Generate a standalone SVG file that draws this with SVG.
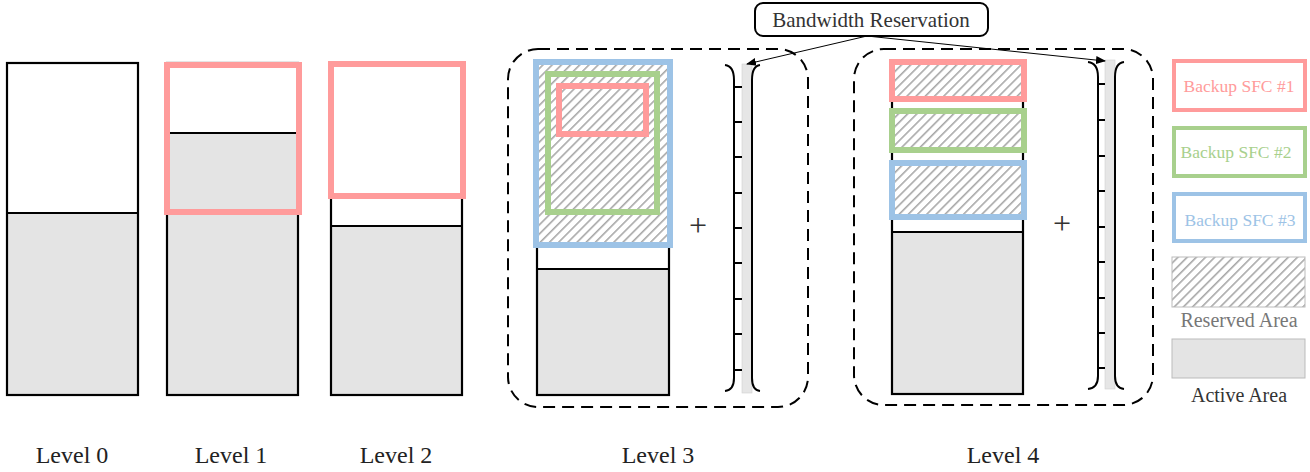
<svg xmlns="http://www.w3.org/2000/svg" width="1310" height="472" viewBox="0 0 1310 472">
<defs>
<pattern id="hatch" width="6.5" height="6.5" patternUnits="userSpaceOnUse" patternTransform="rotate(45)">
<rect width="6.5" height="6.5" fill="#ffffff"/>
<line x1="0" y1="0" x2="0" y2="6.5" stroke="#a8a8a8" stroke-width="3.2"/>
</pattern>
<marker id="arr" markerWidth="10" markerHeight="8" refX="9" refY="4" orient="auto" markerUnits="userSpaceOnUse">
<path d="M0,0 L10,4 L0,8 Z" fill="#000"/>
</marker>
<style>
.col{stroke:#000;stroke-width:2.2;fill:none}
.act{fill:#e4e4e4}
.hat{fill:url(#hatch);stroke:none}
.pink{fill:none;stroke:#ff9b9b;stroke-width:6}
.green{fill:none;stroke:#a8d08d;stroke-width:6}
.blue{fill:none;stroke:#9dc3e6;stroke-width:6}
.dash{fill:none;stroke:#000;stroke-width:2;stroke-dasharray:12 7}
.lbl{font-family:"Liberation Serif","Times New Roman",serif;font-size:24px;fill:#222;text-anchor:middle}
.leg{font-family:"Liberation Serif","Times New Roman",serif;font-size:17.5px;text-anchor:middle}
.bar{fill:#e6e6e6;stroke:#d0d0d0;stroke-width:0.6}
.br{fill:none;stroke:#000;stroke-width:2}
.tick{stroke:#000;stroke-width:2}
.plus{font-family:"Liberation Serif","Times New Roman",serif;font-size:32px;fill:#333;text-anchor:middle}
</style>
</defs>

<g id="level0">
<rect x="7" y="213" width="131" height="182" class="act"/>
<rect x="7" y="63" width="131" height="332" class="col"/>
<line x1="7" y1="213" x2="138" y2="213" class="col"/>
<text x="72" y="463" class="lbl">Level 0</text>
</g>

<g id="level1">
<rect x="167" y="133" width="131" height="262" class="act"/>
<rect x="167" y="63" width="131" height="332" class="col"/>
<line x1="167" y1="133" x2="298" y2="133" class="col"/>
<rect x="167" y="65" width="132" height="147" class="pink"/>
<text x="231" y="463" class="lbl">Level 1</text>
</g>

<g id="level2">
<rect x="331" y="226" width="131" height="169" class="act"/>
<rect x="331" y="63" width="131" height="332" class="col"/>
<line x1="331" y1="226" x2="462" y2="226" class="col"/>
<rect x="331" y="64" width="132" height="132" fill="#fff"/>
<rect x="331" y="64" width="132" height="132" class="pink"/>
<text x="396" y="463" class="lbl">Level 2</text>
</g>

<g id="level3">
<rect x="508" y="49" width="300" height="358" rx="30" class="dash"/>
<rect x="537" y="269" width="132" height="126" class="act"/>
<rect x="537" y="62" width="132" height="333" class="col"/>
<line x1="537" y1="269" x2="669" y2="269" class="col"/>
<rect x="536" y="62" width="134" height="183" class="hat"/>
<rect x="536" y="62" width="134" height="183" class="blue"/>
<rect x="548" y="74" width="109" height="138" class="green"/>
<rect x="559" y="86" width="87" height="48" class="pink"/>
<text x="698" y="236" class="plus">+</text>
<rect x="742" y="64" width="10" height="329" class="bar"/>
<path d="M725,65 Q734,66 734,80 L734,378 Q734,390 725,391" class="br"/>
<path d="M760,65 Q752,66 752,80 L752,378 Q752,390 760,391" class="br"/>
<g class="tick">
<line x1="734" y1="87" x2="742" y2="87"/><line x1="734" y1="122" x2="742" y2="122"/>
<line x1="734" y1="157" x2="742" y2="157"/><line x1="734" y1="193" x2="742" y2="193"/>
<line x1="734" y1="228" x2="742" y2="228"/><line x1="734" y1="263" x2="742" y2="263"/>
<line x1="734" y1="299" x2="742" y2="299"/><line x1="734" y1="334" x2="742" y2="334"/>
<line x1="734" y1="370" x2="742" y2="370"/>
</g>
<text x="658" y="463" class="lbl">Level 3</text>
</g>

<g id="level4">
<rect x="854" y="49" width="299" height="356" rx="30" class="dash"/>
<rect x="892" y="232" width="131" height="162" class="act"/>
<rect x="892" y="62" width="131" height="332" class="col"/>
<line x1="892" y1="232" x2="1023" y2="232" class="col"/>
<rect x="892" y="62" width="132" height="37" class="hat"/>
<rect x="892" y="62" width="132" height="37" class="pink"/>
<rect x="892" y="111" width="132" height="39" class="hat"/>
<rect x="892" y="111" width="132" height="39" class="green"/>
<rect x="892" y="163" width="132" height="54" class="hat"/>
<rect x="892" y="163" width="132" height="54" class="blue"/>
<text x="1062" y="234" class="plus">+</text>
<rect x="1105" y="60" width="10" height="329" class="bar"/>
<path d="M1088,62 Q1098,63 1098,77 L1098,376 Q1098,388 1088,389" class="br"/>
<path d="M1124,62 Q1115,63 1115,77 L1115,376 Q1115,388 1124,389" class="br"/>
<g class="tick">
<line x1="1098" y1="84" x2="1105" y2="84"/><line x1="1098" y1="120" x2="1105" y2="120"/>
<line x1="1098" y1="156" x2="1105" y2="156"/><line x1="1098" y1="191" x2="1105" y2="191"/>
<line x1="1098" y1="227" x2="1105" y2="227"/><line x1="1098" y1="262" x2="1105" y2="262"/>
<line x1="1098" y1="298" x2="1105" y2="298"/><line x1="1098" y1="333" x2="1105" y2="333"/>
<line x1="1098" y1="368" x2="1105" y2="368"/>
</g>
<text x="1003" y="463" class="lbl">Level 4</text>
</g>

<g id="bandwidth">
<rect x="755" y="3" width="233" height="33" rx="8" fill="#fff" stroke="#000" stroke-width="2"/>
<text x="871" y="27" class="lbl" style="font-size:21px;fill:#333">Bandwidth Reservation</text>
</g>

<g id="connectors" stroke="#000" stroke-width="1" fill="none">
<line x1="867" y1="36" x2="747" y2="64" marker-end="url(#arr)"/>
<line x1="867" y1="36" x2="1105" y2="61" marker-end="url(#arr)"/>
</g>

<g id="legend">
<rect x="1174" y="61" width="131" height="49" fill="#fff" stroke="#ff9b9b" stroke-width="4"/>
<text x="1239" y="92" class="leg" fill="#ff9b9b">Backup SFC #1</text>
<rect x="1174" y="128" width="131" height="48" fill="#fff" stroke="#a8d08d" stroke-width="4"/>
<text x="1236" y="158" class="leg" fill="#a8d08d">Backup SFC #2</text>
<rect x="1174" y="194" width="131" height="47" fill="#fff" stroke="#9dc3e6" stroke-width="4"/>
<text x="1240" y="226" class="leg" fill="#9dc3e6">Backup SFC #3</text>
<rect x="1172" y="257" width="133" height="50" fill="url(#hatch)" stroke="#bbb" stroke-width="1"/>
<text x="1239" y="327" class="leg" fill="#777" style="font-size:20px">Reserved Area</text>
<rect x="1172" y="339" width="133" height="39" fill="#e4e4e4" stroke="#bbb" stroke-width="1"/>
<text x="1239" y="402" class="leg" fill="#333" style="font-size:20px">Active Area</text>
</g>
</svg>
